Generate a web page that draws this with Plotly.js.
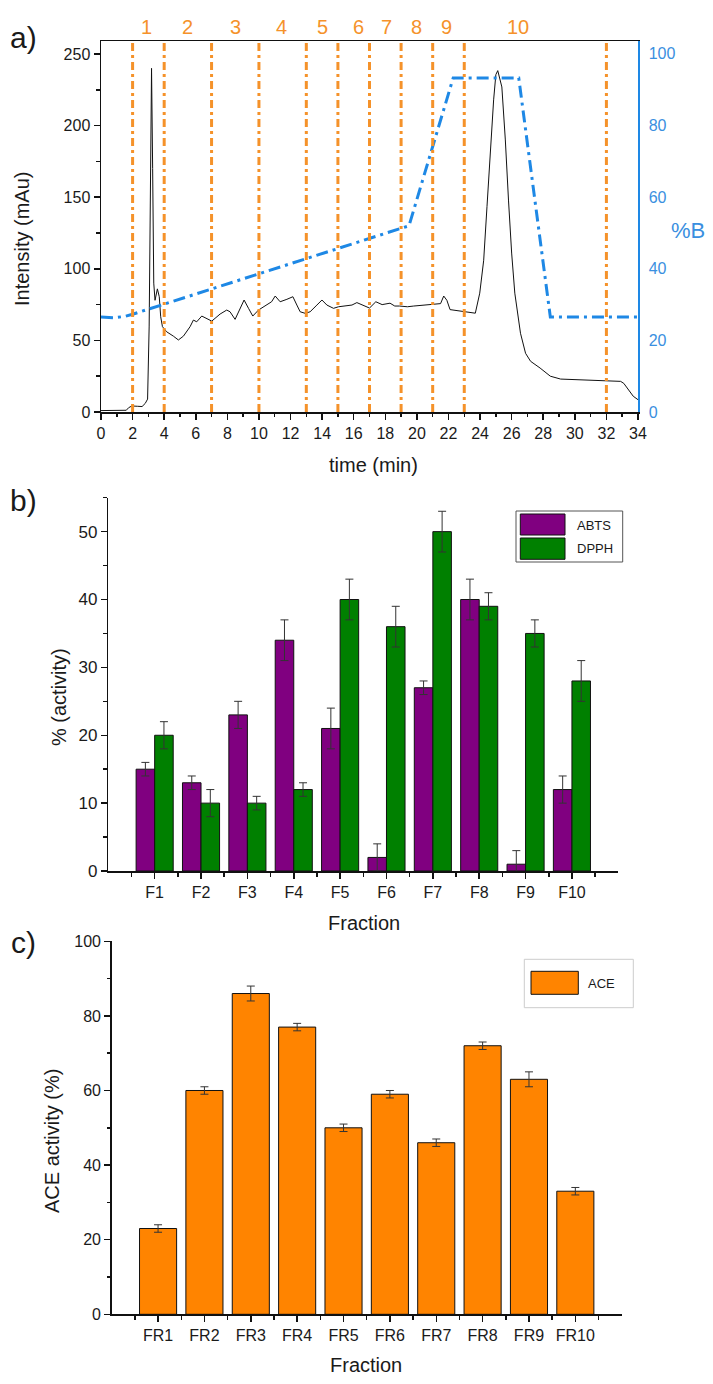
<!DOCTYPE html>
<html>
<head>
<meta charset="utf-8">
<script src="https://cdn.plot.ly/plotly-3.0.1.min.js"></script>
<style>html,body{margin:0;padding:0;background:#fff;}#chart{width:713px;height:1384px;}</style>
</head>
<body>
<div id="chart"></div>
<script>
// ---------- Panel a: chromatogram ----------
const chromTime = [0,0.5,1.0,1.6,1.75,1.95,2.3,2.6,2.8,2.95,3.05,3.12,3.2,3.27,3.34,3.42,3.5,3.57,3.69,3.78,3.89,4.16,4.58,4.9,5.22,5.64,5.85,6.06,6.38,6.7,7.01,7.22,7.54,7.96,8.17,8.49,8.8,9.06,9.34,9.61,9.97,10.29,10.6,10.8,11.03,11.34,11.77,12.15,12.4,12.61,12.93,13.24,13.67,13.99,14.3,14.72,15.04,15.46,15.89,16.2,16.6,17.0,17.4,17.8,18.3,18.6,18.9,19.4,19.8,20.3,20.85,21.5,21.7,21.9,22.1,23.0,23.7,23.98,24.23,24.44,24.65,24.86,25.0,25.12,25.38,25.6,25.8,26.0,26.2,26.56,26.88,27.2,27.8,28.45,29.1,29.9,31.8,32.9,33.1,33.3,33.7,34.0];
const chromIntensity = [1,1,1,1.2,3,4.2,4,3.8,6,9,60,180,240,170,90,78,84,86,80.5,66.5,59.6,56,53,50.3,53,59.6,64.2,63,67,65.4,63.5,65.4,68.4,71.2,70,64.7,72.4,78.2,72.4,67,71.2,73.5,75.9,77,81,77,78.7,80.5,74.7,70,68.9,70,74.7,78.2,74.7,72.4,73.5,74,74.7,76.4,74.5,72.6,77,75,76,74,74,73.5,74,74.5,75.5,75.7,81,78,71.5,70.3,69,83,106,143.6,183,218,235.6,238.4,227,190,148,111,83,55,41,35.4,30.7,25,23,22.6,22,21.4,20,16.8,11,8.6];
const gradTime = [0,0.8,1.5,2.0,19.5,22.3,26.45,28.45,34];
const gradB = [26.5,26.3,26.7,27.3,52,93.3,93.3,26.5,26.5];
const fractionCuts = [2,4,7,10,13,15,17,19,21,23,32];
const fractionLabels = ['1','2','3','4','5','6','7','8','9','10'];
const fractionLabelX = [2.9,5.5,8.5,11.45,14,16.3,18.1,20,21.9,26.4];

// ---------- Panel b: antioxidant activity ----------
const fracPos = [1,2,3,4,5,6,7,8,9,10];
const fracNamesB = ['F1','F2','F3','F4','F5','F6','F7','F8','F9','F10'];
const abts = [15,13,23,34,21,2,27,40,1,12];
const abtsErr = [1,1,2,3,3,2,1,3,2,2];
const dpph = [20,10,10,12,40,36,50,39,35,28];
const dpphErr = [2,2,1,1,3,3,3,2,2,3];

// ---------- Panel c: ACE activity ----------
const fracNamesC = ['FR1','FR2','FR3','FR4','FR5','FR6','FR7','FR8','FR9','FR10'];
const ace = [23,60,86,77,50,59,46,72,63,33];
const aceErr = [1,1,2,1,1,1,1,1,2,1];

const W = 713, H = 1384;
const px = v => v / W;
const py = v => 1 - v / H;

const ORANGE = '#F5922A';
const BLUE = '#1E88E5';
const BLUETXT = '#3A8FE0';
const PURPLE = '#800080';
const GREEN = '#008000';
const ACEORANGE = '#FF8400';
const FONT = 'Liberation Sans, Arial, sans-serif';
const TXT = '#1a1a1a';

const errStyle = arr => ({type:'data', array:arr, visible:true, color:'#333', thickness:1, width:4});

const traces = [
  {type:'scatter', mode:'lines', x:chromTime, y:chromIntensity, xaxis:'x', yaxis:'y',
   line:{color:'#111', width:1}, name:'Intensity', hoverinfo:'skip'},
  {type:'scatter', mode:'lines', x:gradTime, y:gradB, xaxis:'x', yaxis:'y2',
   line:{color:BLUE, width:3, dash:'12px,5px,3px,5px'}, name:'%B'},
  {type:'bar', name:'ABTS', x:fracPos, y:abts, error_y:errStyle(abtsErr), xaxis:'x2', yaxis:'y3',
   marker:{color:PURPLE, line:{color:'#111', width:1}}},
  {type:'bar', name:'DPPH', x:fracPos, y:dpph, error_y:errStyle(dpphErr), xaxis:'x2', yaxis:'y3',
   marker:{color:GREEN, line:{color:'#111', width:1}}},
  {type:'bar', name:'ACE', x:fracPos, y:ace, error_y:errStyle(aceErr), xaxis:'x3', yaxis:'y4',
   marker:{color:ACEORANGE, line:{color:'#111', width:1}}}
];

const baseAxis = {
  showline:true, linecolor:'#111', linewidth:1.5, showgrid:false, zeroline:false,
  ticks:'outside', ticklen:6, tickwidth:1.5, tickcolor:'#111',
  tickfont:{family:FONT, size:16, color:TXT}, fixedrange:true
};

const shapes = [];
fractionCuts.forEach(c => {
  shapes.push({type:'line', xref:'x', yref:'y domain', x0:c, x1:c, y0:0, y1:1,
    line:{color:ORANGE, width:3, dash:'8px,4px,3px,4px'}, layer:'above'});
});

// Legend b
shapes.push({type:'rect', xref:'paper', yref:'paper', x0:px(516), x1:px(622.7), y0:py(562), y1:py(511),
  line:{color:'#555', width:1}, fillcolor:'#fff', layer:'above'});
shapes.push({type:'rect', xref:'paper', yref:'paper', x0:px(520.3), x1:px(565), y0:py(535), y1:py(514),
  line:{color:'#111', width:1}, fillcolor:PURPLE, layer:'above'});
shapes.push({type:'rect', xref:'paper', yref:'paper', x0:px(520.3), x1:px(565), y0:py(559.3), y1:py(538),
  line:{color:'#111', width:1}, fillcolor:GREEN, layer:'above'});
// Legend c
shapes.push({type:'rect', xref:'paper', yref:'paper', x0:px(524.3), x1:px(633.3), y0:py(1007.7), y1:py(959.3),
  line:{color:'#ccc', width:1}, fillcolor:'#fff', layer:'above'});
shapes.push({type:'rect', xref:'paper', yref:'paper', x0:px(531), x1:px(578.3), y0:py(994.3), y1:py(971.3),
  line:{color:'#111', width:1}, fillcolor:ACEORANGE, layer:'above'});

const ann = (text, x, y, opts={}) => Object.assign({
  text, xref:'paper', yref:'paper', x:px(x), y:py(y), showarrow:false,
  xanchor:'center', yanchor:'middle', font:{family:FONT, size:20, color:TXT}
}, opts);

const annotations = [];
fractionLabels.forEach((t, i) => {
  annotations.push({text:t, xref:'x', yref:'paper', x:fractionLabelX[i], y:py(27), showarrow:false,
    xanchor:'center', yanchor:'middle', font:{family:FONT, size:20, color:ORANGE}});
});
annotations.push(ann('a)', 23, 38, {font:{family:FONT, size:30, color:TXT}}));
annotations.push(ann('Intensity (mAu)', 22, 239, {textangle:-90}));
annotations.push(ann('time (min)', 373, 465));
annotations.push(ann('%B', 688, 230, {font:{family:FONT, size:22, color:BLUETXT}}));
annotations.push(ann('b)', 23.5, 500, {font:{family:FONT, size:30, color:TXT}}));
annotations.push(ann('% (activity)', 59, 697, {textangle:-90}));
annotations.push(ann('Fraction', 364, 923));
annotations.push(ann('c)', 23.5, 942, {font:{family:FONT, size:30, color:TXT}}));
annotations.push(ann('ACE activity (%)', 52, 1141, {textangle:-90}));
annotations.push(ann('Fraction', 366, 1365));
// legend texts
annotations.push(ann(traces[2].name, 575, 525, {xanchor:'left', font:{family:FONT, size:13, color:TXT}}));
annotations.push(ann(traces[3].name, 575, 548.7, {xanchor:'left', font:{family:FONT, size:13, color:TXT}}));
annotations.push(ann(traces[4].name, 586, 983, {xanchor:'left', font:{family:FONT, size:13, color:TXT}}));

const layout = {
  width:W, height:H, margin:{l:0, r:0, t:0, b:0}, paper_bgcolor:'#fff', plot_bgcolor:'#fff',
  showlegend:false, barmode:'group', bargap:0.2, bargroupgap:0,
  font:{family:FONT, color:TXT},
  xaxis: Object.assign({}, baseAxis, {domain:[px(101), px(638)], anchor:'y', range:[0,34], dtick:2, tick0:0,
    mirror:true, minor:{dtick:1, tick0:0, ticks:'outside', ticklen:3.5, tickcolor:'#111'}}),
  yaxis: Object.assign({}, baseAxis, {domain:[py(412), py(41)], anchor:'x', range:[0,259.1], dtick:50, tick0:0,
    minor:{dtick:25, tick0:0, ticks:'outside', ticklen:3.5, tickcolor:'#111'}}),
  yaxis2: Object.assign({}, baseAxis, {overlaying:'y', anchor:'x', side:'right', range:[0,103.6], dtick:20, tick0:0,
    linecolor:BLUE, ticks:'', ticklabelstandoff:6, tickfont:{family:FONT, size:16, color:BLUETXT}}),
  xaxis2: Object.assign({}, baseAxis, {domain:[px(108.3), px(618.3)], anchor:'y3', range:[0,11],
    tickmode:'array', tickvals:fracPos, ticktext:fracNamesB,
    minor:{tickmode:'linear', dtick:1, tick0:0.5, ticks:'outside', ticklen:4, tickcolor:'#111'}}),
  yaxis3: Object.assign({}, baseAxis, {domain:[py(871), py(497.7)], anchor:'x2', range:[0,55], dtick:10, tick0:0,
    tickfont:{family:FONT, size:17, color:TXT},
    minor:{dtick:5, tick0:0, ticks:'outside', ticklen:3.5, tickcolor:'#111'}}),
  xaxis3: Object.assign({}, baseAxis, {domain:[px(111.7), px(621.7)], anchor:'y4', range:[0,11],
    tickmode:'array', tickvals:fracPos, ticktext:fracNamesC,
    minor:{tickmode:'linear', dtick:1, tick0:0.5, ticks:'outside', ticklen:4, tickcolor:'#111'}}),
  yaxis4: Object.assign({}, baseAxis, {domain:[py(1314.3), py(941.3)], anchor:'x3', range:[0,100], dtick:20, tick0:0,
    minor:{dtick:10, tick0:0, ticks:'outside', ticklen:3.5, tickcolor:'#111'}}),
  shapes, annotations
};

Plotly.newPlot('chart', traces, layout, {staticPlot:true, displayModeBar:false});
</script>
</body>
</html>
